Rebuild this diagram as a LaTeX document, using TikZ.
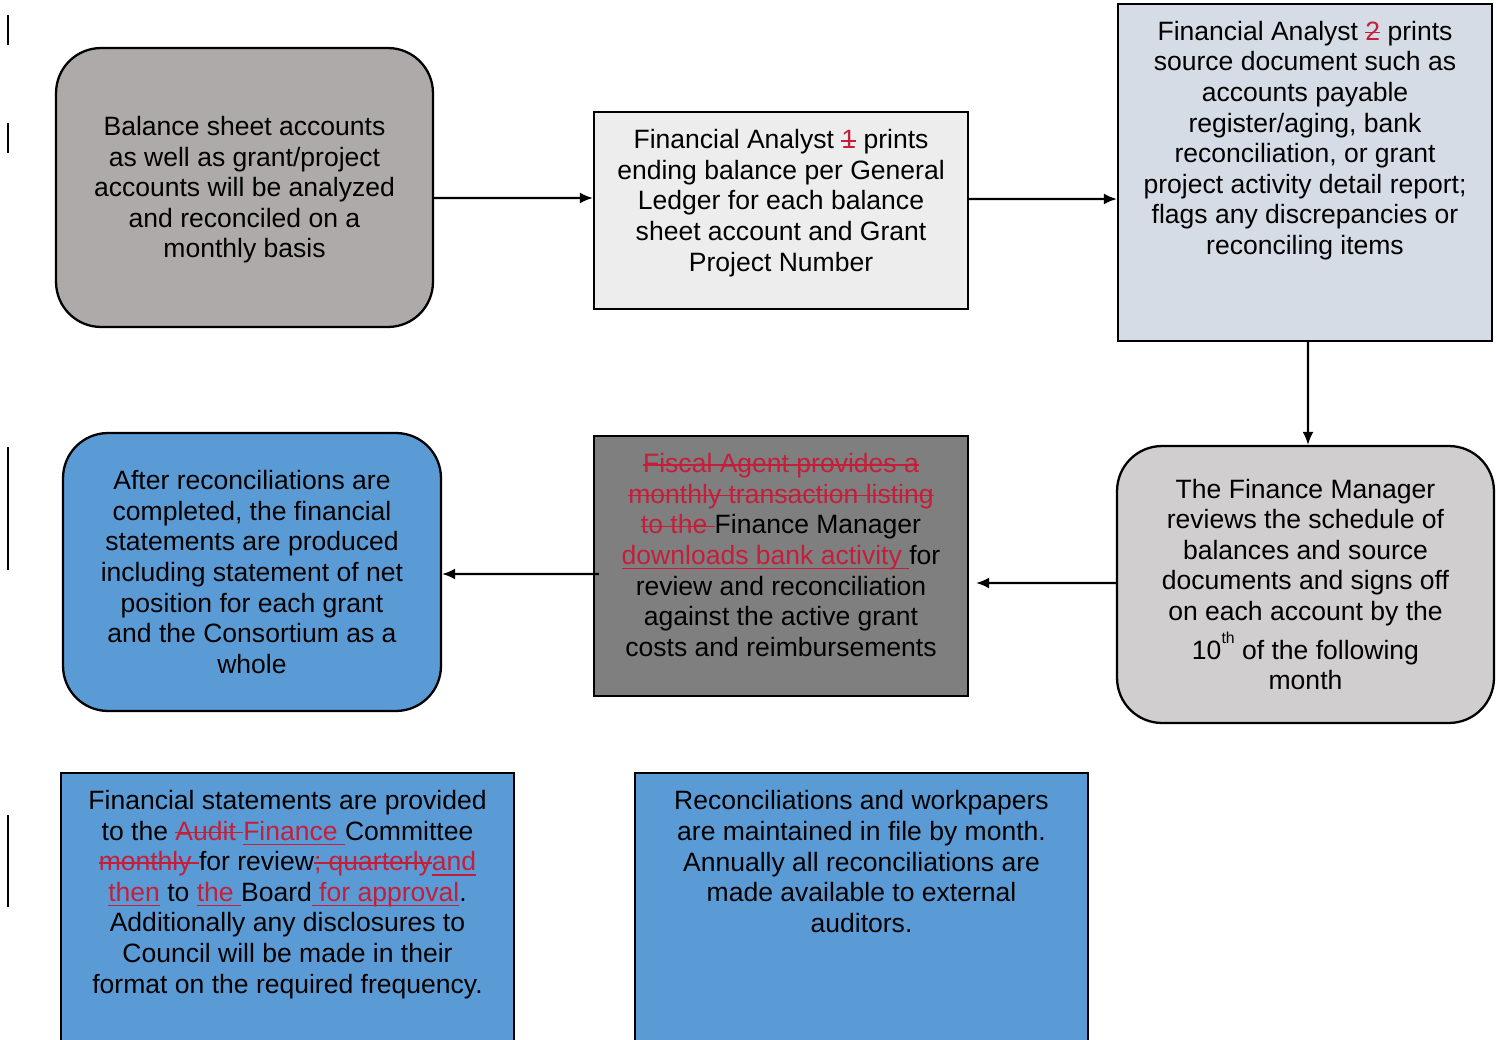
\documentclass[tikz,border=0pt]{standalone}
\usepackage{fontspec}
\setmainfont{Liberation Sans}
\usetikzlibrary{arrows.meta,positioning}
\definecolor{acctgrey}{HTML}{AEAAAA}
\definecolor{palegrey}{HTML}{EDEDED}
\definecolor{paleblue}{HTML}{D6DCE5}
\definecolor{lightgrey}{HTML}{D0CECE}
\definecolor{darkgrey}{HTML}{7F7F7F}
\definecolor{midblue}{HTML}{5B9BD5}
\definecolor{chg}{HTML}{C41E3A}
\newsavebox{\chgbox}
% tracked changes: struck out and inserted text
\newcommand{\deltxt}[1]{{\color{chg}\sbox{\chgbox}{#1}\rlap{\rule[0.27em]{\wd\chgbox}{0.7pt}}\usebox{\chgbox}}}
\newcommand{\instxt}[1]{{\color{chg}\sbox{\chgbox}{#1}\rlap{\rule[-0.18em]{\wd\chgbox}{0.7pt}}\usebox{\chgbox}}}
\tikzset{box/.style={draw=black, line width=1.3pt},
        round box/.style={box, rounded corners=0.9cm},
        txt/.style={align=center, inner sep=0pt, font=\fontsize{15.1}{17.4}\selectfont},
        flow/.style={-{Latex[length=0.26cm,width=0.22cm]}, line width=1.2pt},
        changebar/.style={line width=1.2pt},
        }

\begin{document}
\begin{tikzpicture}[x=0.02cm, y=-0.02cm]
    \useasboundingbox (0,0) rectangle (1497,1040);
    \clip (0,0) rectangle (1497,1040);

    % top row
    \node[round box, fill=acctgrey, minimum width=7.54cm, minimum height=5.58cm] (balance) at (244.5,187.5) {};
    \node[txt] (balance-t) at ([yshift=-0.05cm]balance.center) {Balance sheet accounts\\as well as grant/project\\accounts will be analyzed\\and reconciled on a\\monthly basis};

    \node[box, fill=palegrey, minimum width=7.48cm, minimum height=3.94cm] (ledger) at (781,210.5) {};
    \node[txt] (ledger-t) at ([yshift=0.15cm]ledger.center) {Financial Analyst \deltxt{1} prints\\ending balance per General\\Ledger for each balance\\sheet account and Grant\\Project Number};

    \node[box, fill=paleblue, minimum width=7.48cm, minimum height=6.74cm] (source) at (1305,172.5) {};
    \node[txt] (source-t) at ([yshift=0.64cm]source.center) {Financial Analyst \deltxt{2} prints\\source document such as\\accounts payable\\register/aging, bank\\reconciliation, or grant\\project activity detail report;\\flags any discrepancies or\\reconciling items};

    % middle row
    \node[round box, fill=lightgrey, minimum width=7.54cm, minimum height=5.54cm] (review) at (1305.5,584.5) {};
    \node[txt] (review-t) at (review) {The Finance Manager\\reviews the schedule of\\balances and source\\documents and signs off\\on each account by the\\[4.7pt]10\smash{\raisebox{9pt}{\fontsize{9}{9}\selectfont th}} of the following\\month};

    \node[box, fill=darkgrey, minimum width=7.48cm, minimum height=5.2cm] (download) at (781,566) {};
    \node[txt] (download-t) at ([yshift=0.22cm]download.center) {\deltxt{Fiscal Agent provides a}\\\deltxt{monthly transaction listing}\\\deltxt{to the }Finance Manager\\\instxt{downloads bank activity }for\\review and reconciliation\\against the active grant\\costs and reimbursements};

    \node[round box, fill=midblue, minimum width=7.56cm, minimum height=5.56cm] (statements) at (252,572) {};
    \node[txt] (statements-t) at (statements) {After reconciliations are\\completed, the financial\\statements are produced\\including statement of net\\position for each grant\\and the Consortium as a\\whole};

    % bottom row
    \node[box, fill=midblue, minimum width=9.06cm, minimum height=5.74cm] (committee) at (287.5,916.5) {};
    \node[txt] (committee-t) at ([yshift=0.44cm]committee.center) {Financial statements are provided\\to the \deltxt{Audit }\instxt{Finance }Committee\\\deltxt{monthly }for review\deltxt{; quarterly}\instxt{and}\\\instxt{then} to \instxt{the }Board\instxt{ for approval}.\\Additionally any disclosures to\\Council will be made in their\\format on the required frequency.};

    \node[box, fill=midblue, minimum width=9.06cm, minimum height=5.74cm] (archive) at (861.5,916.5) {};
    \node[txt] (archive-t) at ([yshift=1.1cm]archive.center) {Reconciliations and workpapers\\are maintained in file by month.\\Annually all reconciliations are\\made available to external\\auditors.};

    % connectors
    \draw[flow] ([yshift=-0.21cm]balance.east) -- ([yshift=0.25cm]ledger.west);
    \draw[flow] ([yshift=0.23cm]ledger.east) -- ([yshift=-0.53cm]source.west);
    \draw[flow] ([xshift=0.06cm]source.south) -- ([xshift=0.05cm]review.north);
    \draw[flow, shorten >=0.14cm] ([yshift=0.03cm]review.west) -- ([yshift=-0.34cm]download.east);
    \draw[flow, shorten <=-0.12cm] ([yshift=-0.16cm]download.west) -- ([yshift=-0.04cm]statements.east);

    % change bars
    \draw[changebar] (8,15) -- (8,45);
    \draw[changebar] (8,123) -- (8,153);
    \draw[changebar] (8,447) -- (8,570);
    \draw[changebar] (8,815) -- (8,907);
\end{tikzpicture}
\end{document}
